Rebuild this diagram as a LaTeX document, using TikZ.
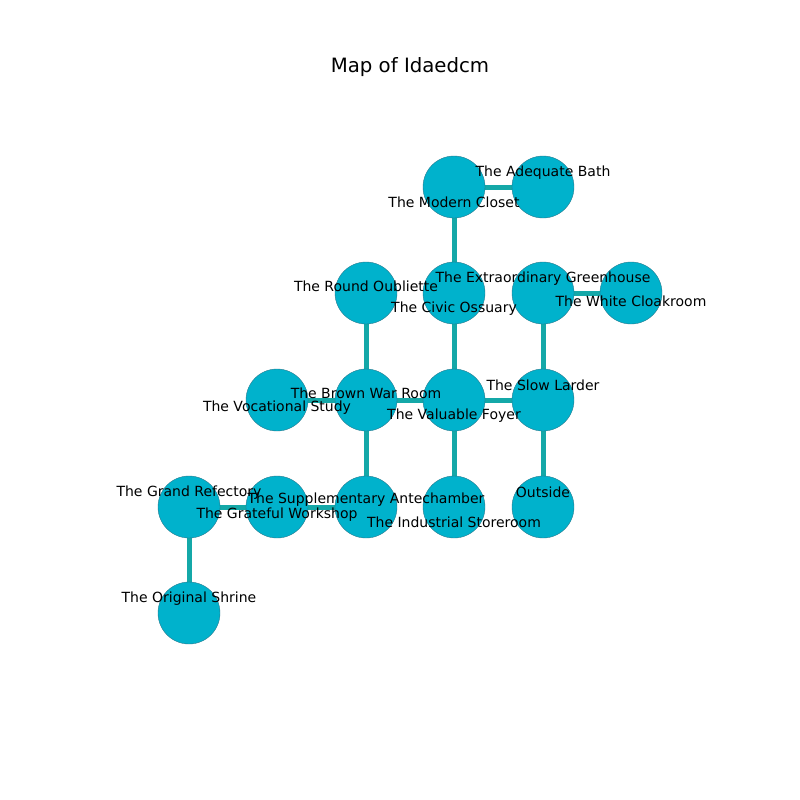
\documentclass[tikz,border=0pt]{standalone}
\usepackage{fontspec}
\setmainfont{DejaVu Sans}
\definecolor{nodefill}{RGB}{0,178,204}
\definecolor{nodeline}{RGB}{40,120,140}
\definecolor{edgecol}{RGB}{20,168,168}
\pgfdeclarelayer{bg}
\pgfsetlayers{bg,main}
\begin{document}
\begin{tikzpicture}[x=0.75pt,y=-0.75pt,
  room/.style={circle,fill=nodefill,draw=nodeline,line width=0.3pt,minimum size=46.5pt,inner sep=0pt},
  lbl/.style={font=\fontsize{10.5}{12}\selectfont,inner sep=0pt,text=black},
  link/.style={edgecol,line width=3.75pt}]
\useasboundingbox (0,0) rectangle (800,800);
\node[font=\fontsize{14.8}{17}\selectfont] (title) at (410,67) {Map of Idaedcm};
% nodes
\node[room] (mc) at (454,187) {};
\node[room] (ab) at (543,187) {};
\node[room] (ro) at (366,293) {};
\node[room] (co) at (454,293) {};
\node[room] (eg) at (543,293) {};
\node[room] (wc) at (631,293) {};
\node[room] (vs) at (277,400) {};
\node[room] (bw) at (366,400) {};
\node[room] (vf) at (454,400) {};
\node[room] (sl) at (543,400) {};
\node[room] (gr) at (189,507) {};
\node[room] (gw) at (277,507) {};
\node[room] (sa) at (366,507) {};
\node[room] (is) at (454,507) {};
\node[room] (ou) at (543,507) {};
\node[room] (os) at (189,613) {};
% edges
\begin{pgfonlayer}{bg}
\draw[link] (mc.center) -- (ab.center);
\draw[link] (mc.center) -- (co.center);
\draw[link] (co.center) -- (vf.center);
\draw[link] (eg.center) -- (wc.center);
\draw[link] (eg.center) -- (sl.center);
\draw[link] (ro.center) -- (bw.center);
\draw[link] (vs.center) -- (bw.center);
\draw[link] (bw.center) -- (vf.center);
\draw[link] (vf.center) -- (sl.center);
\draw[link] (vf.center) -- (is.center);
\draw[link] (sl.center) -- (ou.center);
\draw[link] (bw.center) -- (sa.center);
\draw[link] (gr.center) -- (gw.center);
\draw[link] (gw.center) -- (sa.center);
\draw[link] (gr.center) -- (os.center);
\end{pgfonlayer}
% labels
\node[lbl] (lmc) at (454,202.5) {The Modern Closet};
\node[lbl] (lab) at (543,172.5) {The Adequate Bath};
\node[lbl] (lro) at (366,286.5) {The Round Oubliette};
\node[lbl] (lco) at (454,308.5) {The Civic Ossuary};
\node[lbl] (leg) at (543,278.5) {The Extraordinary Greenhouse};
\node[lbl] (lwc) at (631,301.5) {The White Cloakroom};
\node[lbl] (lvs) at (277,407.5) {The Vocational Study};
\node[lbl] (lbw) at (366,393.5) {The Brown War Room};
\node[lbl] (lvf) at (454,415.5) {The Valuable Foyer};
\node[lbl] (lsl) at (543,385.5) {The Slow Larder};
\node[lbl] (lgr) at (189,492.5) {The Grand Refectory};
\node[lbl] (lgw) at (277,514.5) {The Grateful Workshop};
\node[lbl] (lsa) at (366,499.5) {The Supplementary Antechamber};
\node[lbl] (lis) at (454,522.5) {The Industrial Storeroom};
\node[lbl] (lou) at (543,492.5) {Outside};
\node[lbl] (los) at (189,598.5) {The Original Shrine};
\end{tikzpicture}
\end{document}
